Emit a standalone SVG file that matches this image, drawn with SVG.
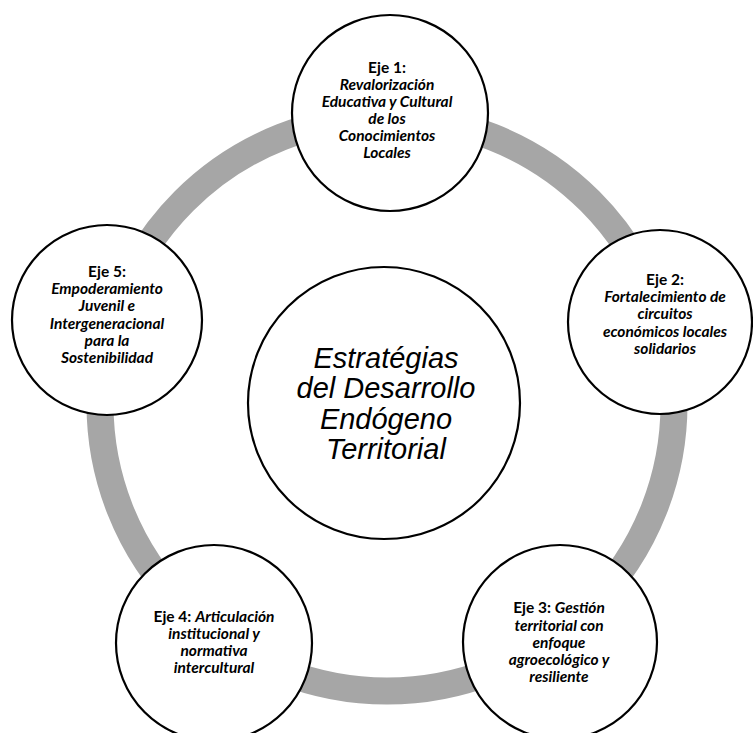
<svg xmlns="http://www.w3.org/2000/svg" width="753" height="733" viewBox="0 0 753 733">
<style>
.node{fill:#ffffff;stroke:#000000;stroke-width:2.2}
.ring{fill:none;stroke:#a6a6a6;stroke-width:27}
.lbl{font-family:Lato,"Open Sans","Liberation Sans",sans-serif;font-size:15.5px;font-weight:bold;font-style:italic;fill:#000;text-anchor:middle}
.lbl .n{font-style:normal}
.main{font-family:"Liberation Sans",Arial,sans-serif;font-size:29px;font-style:italic;fill:#000;text-anchor:middle}
</style>
<rect width="753" height="733" fill="#ffffff"/>
<g id="connectors">
<circle class="ring" cx="387" cy="404" r="287"/>
</g>
<g id="center">
<circle class="node" cx="384" cy="403" r="136"/>
<text class="main" x="386"><tspan x="386" y="368">Estratégias</tspan><tspan x="386" y="398">del Desarrollo</tspan><tspan x="386" y="429">Endógeno</tspan><tspan x="386" y="459">Territorial</tspan></text>
</g>
<g id="eje1">
<circle class="node" cx="390" cy="113" r="98"/>
<text class="lbl"><tspan class="n" x="387" y="73">Eje 1:</tspan><tspan x="387" y="90">Revalorización</tspan><tspan x="387" y="107">Educativa y Cultural</tspan><tspan x="387" y="124">de los</tspan><tspan x="387" y="141">Conocimientos</tspan><tspan x="387" y="158">Locales</tspan></text>
</g>
<g id="eje2">
<circle class="node" cx="660" cy="322" r="92"/>
<text class="lbl"><tspan class="n" x="665" y="285">Eje 2:</tspan><tspan x="665" y="302">Fortalecimiento de</tspan><tspan x="665" y="319">circuitos</tspan><tspan x="665" y="337">económicos locales</tspan><tspan x="665" y="354">solidarios</tspan></text>
</g>
<g id="eje3">
<circle class="node" cx="560" cy="642" r="97"/>
<text class="lbl"><tspan x="559" y="613"><tspan class="n">Eje 3: </tspan>Gestión</tspan><tspan x="559" y="631">territorial con</tspan><tspan x="559" y="648">enfoque</tspan><tspan x="559" y="665">agroecológico y</tspan><tspan x="559" y="682">resiliente</tspan></text>
</g>
<g id="eje4">
<circle class="node" cx="214" cy="643" r="98"/>
<text class="lbl"><tspan x="214" y="622"><tspan class="n">Eje 4: </tspan>Articulación</tspan><tspan x="214" y="639">institucional y</tspan><tspan x="214" y="656">normativa</tspan><tspan x="214" y="673">intercultural</tspan></text>
</g>
<g id="eje5">
<circle class="node" cx="107" cy="320" r="95"/>
<text class="lbl"><tspan class="n" x="107" y="277">Eje 5:</tspan><tspan x="107" y="294">Empoderamiento</tspan><tspan x="107" y="311">Juvenil e</tspan><tspan x="107" y="329">Intergeneracional</tspan><tspan x="107" y="346">para la</tspan><tspan x="107" y="363">Sostenibilidad</tspan></text>
</g>
</svg>
